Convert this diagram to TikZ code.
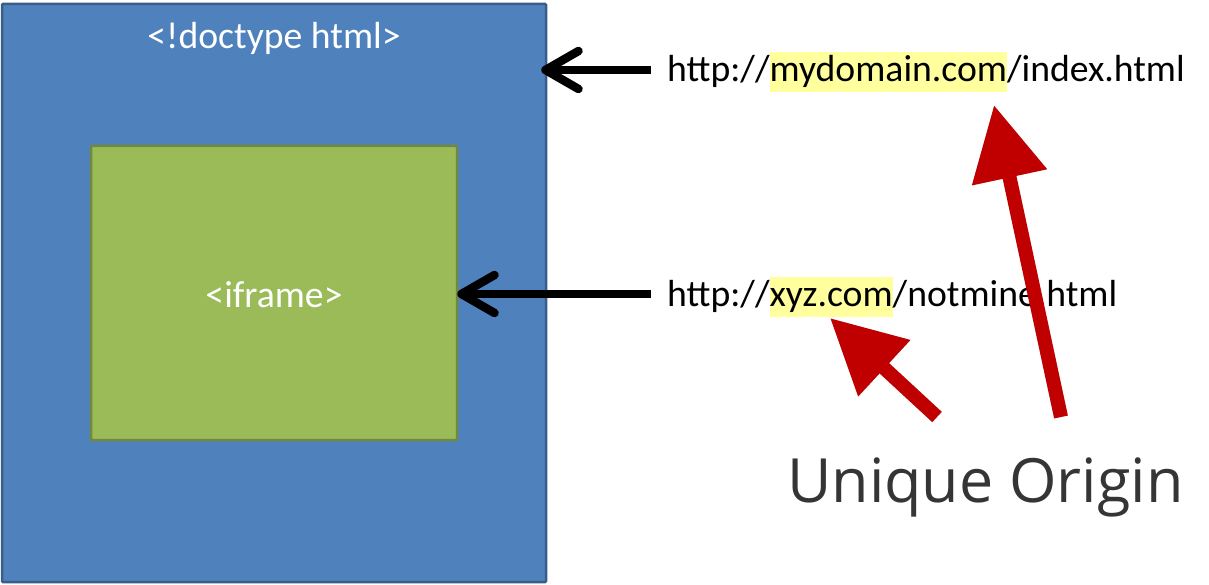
\documentclass[tikz,border=0pt]{standalone}
\usepackage{fontspec}
\setmainfont{Carlito}
\newfontfamily\originfont{Open Sans}
\usetikzlibrary{arrows.meta,positioning}
\definecolor{docblue}{HTML}{4F81BD}
\definecolor{docline}{HTML}{385D8A}
\definecolor{framegreen}{HTML}{9BBB59}
\definecolor{frameline}{HTML}{71893F}
\definecolor{hlyellow}{HTML}{FFFF9E}
\definecolor{origred}{HTML}{C00000}
\definecolor{origtext}{HTML}{353535}
\newcommand\urlstrut{\rule[-0.27em]{0pt}{1.05em}}
\newcommand\hlurl[1]{{\setlength\fboxsep{0pt}\colorbox{hlyellow}{\urlstrut#1}}}
\begin{document}
\begin{tikzpicture}[x=1pt, y=-1pt, every node/.style={inner sep=0pt},
  pointer/.style={line width=8.5pt, -{Straight Barb[length=33pt,width=38pt,line cap=round,line join=round]}},
  redarrow/.style={origred, line width=14pt, -{Triangle[length=74pt,width=73pt]}},
  redshadow/.style={black, opacity=0.18, line width=14pt, -{Triangle[length=74pt,width=73pt]}}]
\useasboundingbox (0,0) rectangle (1209,585);
\def\labelfont{\fontsize{37.7}{45}\selectfont}
% page and frame
\node[fill=docblue, draw=docline, line width=2.5pt, rounded corners=1pt,
  minimum width=544pt, minimum height=578pt] (doc) at (274,293) {};
\node[fill=framegreen, draw=frameline, line width=2.5pt, rounded corners=1pt,
  minimum width=366pt, minimum height=294pt] (frame) at (274,293) {};
\node[white, font=\labelfont, anchor=base] (doctitle) at (274,49) {<!doctype html>};
\node[white, font=\labelfont, anchor=base] (frametitle) at (274,307) {<iframe>};
% urls
\node[anchor=west, font=\labelfont] (url1) at (667,72) {\urlstrut http://\hlurl{mydomain.com}/index.html};
\node[anchor=west, font=\labelfont] (url2) at (667,297) {\urlstrut http://\hlurl{xyz.com}/notmine.html};
\draw[pointer, shorten >=-6pt] ([xshift=-16pt,yshift=2pt]url1.west) -- ([yshift=2pt]doc.east |- url1.west);
\draw[pointer, shorten >=-1pt] ([xshift=-16pt,yshift=3pt]url2.west) -- ([yshift=3pt]frame.east |- url2.west);
% origin
\node[anchor=base west, font=\originfont\fontsize{61}{70}\selectfont, text=origtext] (origin) at (787,502) {Unique Origin};
\coordinate (tailA) at (1061,417);
\coordinate (tipA) at (994,105);
\coordinate (tailB) at (937,417);
\coordinate (tipB) at (830,318);
\draw[redshadow, shift={(3,3)}] (tailA) -- (tipA);
\draw[redshadow, shift={(3,3)}] (tailB) -- (tipB);
\draw[redarrow] (tailA) -- (tipA);
\draw[redarrow] (tailB) -- (tipB);
\end{tikzpicture}
\end{document}
